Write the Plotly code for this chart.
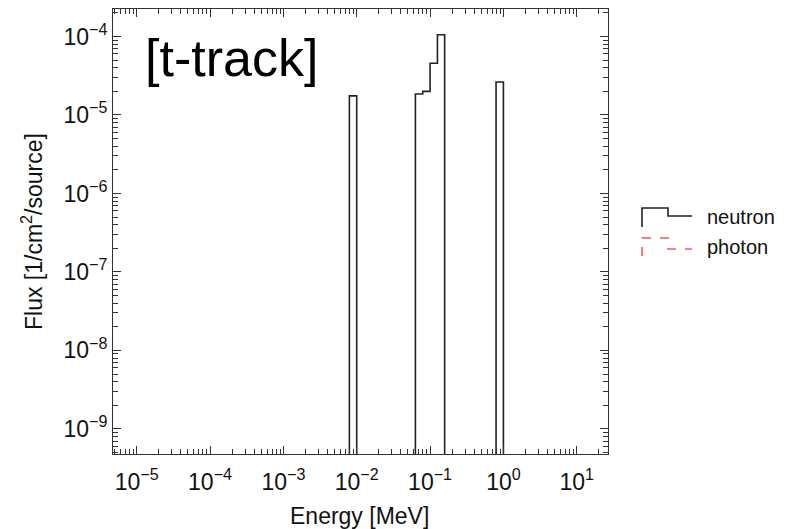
import plotly.graph_objects as go

# ---------------- data ----------------
bin_lo = [7.94e-3, 6.31e-2, 7.94e-2, 1.00e-1, 1.26e-1, 7.94e-1]
bin_hi = [1.00e-2, 7.94e-2, 1.00e-1, 1.26e-1, 1.58e-1, 1.00e0]
flux_neutron = [1.75e-5, 1.85e-5, 2.0e-5, 4.56e-5, 1.05e-4, 2.63e-5]
flux_photon = []          # no photon flux in this tally
e_min, e_max = 4.75e-6, 26.7
floor_val = 1e-14         # zero bins (off-scale on log axis)

x_tick_vals = [1e-5, 1e-4, 1e-3, 1e-2, 1e-1, 1e0, 1e1]
x_tick_text = ["10<sup>\u22125</sup>", "10<sup>\u22124</sup>", "10<sup>\u22123</sup>",
               "10<sup>\u22122</sup>", "10<sup>\u22121</sup>", "10<sup>0</sup>", "10<sup>1</sup>"]
y_tick_vals = [1e-9, 1e-8, 1e-7, 1e-6, 1e-5, 1e-4]
y_tick_text = ["10<sup>\u22129</sup>", "10<sup>\u22128</sup>", "10<sup>\u22127</sup>",
               "10<sup>\u22126</sup>", "10<sup>\u22125</sup>", "10<sup>\u22124</sup>"]

# ---------------- build histogram step path ----------------
xs, ys = [e_min], [floor_val]
prev_hi = None
for lo, hi, f in zip(bin_lo, bin_hi, flux_neutron):
    if prev_hi is None or abs(lo - prev_hi) / lo > 1e-3:
        if prev_hi is not None:
            xs.append(prev_hi); ys.append(floor_val)
        xs.append(lo); ys.append(floor_val)
    xs.append(lo); ys.append(f)
    xs.append(hi); ys.append(f)
    prev_hi = hi
xs.append(prev_hi); ys.append(floor_val)
xs.append(e_max); ys.append(floor_val)

W, H = 794, 529
L, R, T, B = 113, 608, 9, 454
FONT = "Liberation Sans, Arial, Helvetica, sans-serif"
AX = "#333333"


def px(x, y):
    return (x - L) / (R - L), (B - y) / (B - T)


fig = go.Figure()
fig.add_trace(go.Scatter(x=xs, y=ys, mode="lines", name="neutron",
                         line=dict(color="#222222", width=1.6), showlegend=False,
                         hoverinfo="skip"))
fig.add_trace(go.Scatter(x=flux_photon, y=flux_photon, mode="lines", name="photon",
                         line=dict(color="#f25a5a", width=1.6, dash="dash"),
                         showlegend=False))

axis_common = dict(
    type="log", showgrid=False, zeroline=False, showline=True, mirror="ticks",
    linecolor=AX, linewidth=1, ticks="inside", ticklen=8, tickwidth=1, tickcolor=AX,
    tickfont=dict(family=FONT, size=23, color="#111111"),
    minor=dict(ticks="inside", ticklen=5, tickwidth=1, tickcolor=AX, dtick="D1", showgrid=False),
)
fig.update_xaxes(range=[-5.323, 1.426], tickvals=x_tick_vals, ticktext=x_tick_text,
                 ticklabelstandoff=7, **axis_common)
fig.update_yaxes(range=[-9.32, -3.65], tickvals=y_tick_vals, ticktext=y_tick_text,
                 **axis_common)

annotations = []
# axis titles
ax_, ay_ = px(359, 516)
annotations.append(dict(x=ax_, y=ay_, xref="paper", yref="paper", text="Energy [MeV]",
                        showarrow=False, xanchor="center", yanchor="middle",
                        font=dict(family=FONT, size=23, color="#111111")))
ax_, ay_ = px(32, 232)
annotations.append(dict(x=ax_, y=ay_, xref="paper", yref="paper",
                        text="Flux [1/cm<sup>2</sup>/source]", textangle=-90,
                        showarrow=False, xanchor="center", yanchor="middle",
                        font=dict(family=FONT, size=23, color="#111111")))
# tally label
ax_, ay_ = px(143, 58)
annotations.append(dict(x=ax_, y=ay_, xref="paper", yref="paper", text="[t-track]",
                        showarrow=False, xanchor="left", yanchor="middle",
                        font=dict(family=FONT, size=52, color="#000000")))
# legend texts
for label, yy in [("neutron", 217), ("photon", 247)]:
    ax_, ay_ = px(705, yy)
    annotations.append(dict(x=ax_, y=ay_, xref="paper", yref="paper", text=label,
                            showarrow=False, xanchor="left", yanchor="middle",
                            font=dict(family=FONT, size=20, color="#111111")))


def path(points):
    pts = [px(x, y) for x, y in points]
    return "M " + " L ".join(f"{a:.5f},{b:.5f}" for a, b in pts)


shapes = [
    dict(type="path", xref="paper", yref="paper",
         path=path([(642, 227), (642, 208), (668, 208), (668, 216), (692, 216)]),
         line=dict(color="#222222", width=1.6)),
    dict(type="path", xref="paper", yref="paper",
         path=path([(642, 256), (642, 238), (668, 238), (668, 249), (692, 249)]),
         line=dict(color="#f25a5a", width=1.6, dash="dash")),
]

fig.update_layout(
    width=W, height=H,
    margin=dict(l=L, r=W - R, t=T, b=H - B, pad=0),
    plot_bgcolor="white", paper_bgcolor="white",
    font=dict(family=FONT, size=22, color="#111111"),
    showlegend=False,
    annotations=annotations, shapes=shapes,
)

fig.write_html("out.html")
